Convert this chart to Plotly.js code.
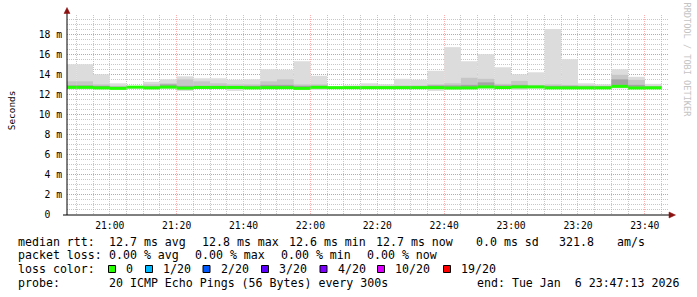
<!DOCTYPE html>
<html>
<head>
<meta charset="utf-8">
<script src="https://cdn.plot.ly/plotly-3.0.1.min.js"></script>
<style>
html,body{margin:0;padding:0;background:#fff;}
#chart{width:697px;height:297px;}
</style>
</head>
<body>
<div id="chart"></div>
<script>
// ---- data (bin end times, 5-minute steps) ----
const binEnd = [
  '2026-01-06 20:50','2026-01-06 20:55','2026-01-06 21:00','2026-01-06 21:05','2026-01-06 21:10','2026-01-06 21:15',
  '2026-01-06 21:20','2026-01-06 21:25','2026-01-06 21:30','2026-01-06 21:35','2026-01-06 21:40','2026-01-06 21:45',
  '2026-01-06 21:50','2026-01-06 21:55','2026-01-06 22:00','2026-01-06 22:05','2026-01-06 22:10','2026-01-06 22:15',
  '2026-01-06 22:20','2026-01-06 22:25','2026-01-06 22:30','2026-01-06 22:35','2026-01-06 22:40','2026-01-06 22:45',
  '2026-01-06 22:50','2026-01-06 22:55','2026-01-06 23:00','2026-01-06 23:05','2026-01-06 23:10','2026-01-06 23:15',
  '2026-01-06 23:20','2026-01-06 23:25','2026-01-06 23:30','2026-01-06 23:35','2026-01-06 23:40','2026-01-06 23:45'
];
// values in ms
const pingMax = [15.0,15.0,14.0,13.1,12.8,13.25, 13.5,13.8,13.6,13.6,13.45,13.5, 14.5,14.45,15.3,13.85,12.8,12.9,
                 13.1,13.0,13.55,13.45,14.35,16.7, 15.3,16.0,14.7,14.0,14.2,18.5, 15.5,13.1,13.0,14.5,13.75,13.05];
const pingHi  = [13.3,13.3,13.0,12.85,12.78,13.0, 13.1,13.5,13.3,13.1,13.0,13.0, 13.3,13.5,13.0,13.0,12.75,12.8,
                 12.85,12.85,12.9,12.9,13.0,13.1, 13.65,13.55,13.05,13.35,12.95,13.0, 12.95,12.9,12.85,13.95,13.45,12.85];
const pingCore= [12.9,12.9,12.85,12.75,12.75,12.8, 13.0,12.85,12.85,12.85,12.8,12.85, 12.95,12.95,12.85,12.85,12.72,12.75,
                 12.78,12.78,12.8,12.8,12.9,12.9, 12.95,13.2,12.9,12.95,12.85,12.85, 12.85,12.8,12.8,13.5,12.95,12.78];
const median  = [12.7,12.7,12.65,12.6,12.72,12.65, 12.72,12.62,12.69,12.69,12.69,12.65, 12.67,12.67,12.6,12.7,12.67,12.67,
                 12.67,12.67,12.67,12.67,12.67,12.64, 12.65,12.74,12.68,12.74,12.74,12.65, 12.65,12.65,12.65,12.8,12.64,12.65];
const pingMin = [12.5,12.5,12.5,12.5,12.6,12.5, 12.6,12.35,12.55,12.55,12.35,12.55, 12.55,12.55,12.45,12.45,12.6,12.6,
                 12.6,12.6,12.6,12.6,12.35,12.5, 12.5,12.6,12.55,12.45,12.6,12.55, 12.55,12.55,12.55,12.6,12.55,12.55];

const yTickVals = [0,2,4,6,8,10,12,14,16,18];
const yTickText = ['0  ','2 m','4 m','6 m','8 m','10 m','12 m','14 m','16 m','18 m'];

const rttItems  = ['median rtt:','12.7 ms avg','12.8 ms max','12.6 ms min','12.7 ms now','0.0 ms sd','321.8','am/s'];
const lossItems = ['packet loss:','0.00 % avg','0.00 % max','0.00 % min','0.00 % now'];
const lossLabels = ['0','1/20','2/20','3/20','4/20','10/20','19/20'];
const lossColors = ['#26ff00','#00b8ff','#0059ff','#5e00ff','#7e00ff','#dd00ff','#ff0000'];
const probeItems = ['probe:','20 ICMP Echo Pings (56 Bytes) every 300s'];
const endText    = 'end: Tue Jan  6 23:47:13 2026';

// ---- geometry helpers ----
const W = 697, H = 297, L = 67, R = 28, T = 15, B = 82;
const PW = W - L - R, PH = H - T - B;
const px = x => (x - L) / PW;
const py = y => (H - B - y) / PH;
const nb = s => s.replace(/ /g, '\u00a0');
const MONO = 'DejaVu Sans Mono';

const STEP = 300000;
function band(lo, hi, color) {
  return {
    type: 'bar', x: binEnd, base: lo, y: hi.map((v, i) => v - lo[i]),
    width: STEP, offset: -STEP, marker: {color: color, line: {width: 0}},
    hoverinfo: 'skip', showlegend: false
  };
}
const medLo = median.map(v => v - 0.15);
const medHi = median.map(v => v + 0.15);

const traces = [
  band(pingMin, pingMax, '#dcdcdc'),
  band(median, pingHi, '#c6c6c6'),
  band(median, pingCore, '#a4a4a4'),
  band(medLo, medHi, '#22ff00')
];

const gridMajor = 'rgba(255,110,110,0.55)';
const gridMinor = 'rgba(175,175,175,0.7)';

const annotations = [];
function addText(text, x, y, size, anchor, color) {
  annotations.push({text: nb(text), xref: 'paper', yref: 'paper', x: px(x), y: py(y),
    xanchor: anchor || 'left', yanchor: 'middle', showarrow: false,
    font: {family: MONO, size: size, color: color || '#000'}});
}
const LF = 11.6;
const rttX  = [16, 107.3, 200, 286.5, 374, 474, 557, 615];
const lossX = [16, 107.3, 193.3, 279.3, 365];
rttItems.forEach((t, i) => addText(t, rttX[i], 241.7, LF));
lossItems.forEach((t, i) => addText(t, lossX[i], 255.3, LF));
addText('loss color:', 16, 269, LF);
addText(probeItems[0], 16, 282.7, LF);
addText(probeItems[1], 107.3, 282.7, LF);
addText(endText, 681, 282.7, LF, 'right');

const sqX = [108.5, 145.5, 203, 261.5, 320, 377.5, 443.5];
const shapes = [];
lossLabels.forEach((lab, i) => {
  shapes.push({type: 'rect', xref: 'paper', yref: 'paper',
    x0: px(sqX[i]), x1: px(sqX[i] + 7), y0: py(272.5), y1: py(265.5),
    fillcolor: lossColors[i], line: {color: '#000', width: 1}});
  addText(lab, sqX[i] + 15.7, 269, LF);
});

// y title and watermark
annotations.push({text: 'Seconds', xref: 'paper', yref: 'paper', x: px(11.2), y: py(110),
  xanchor: 'center', yanchor: 'middle', textangle: -90, showarrow: false,
  font: {family: MONO, size: 9.4, color: '#000'}});
annotations.push({text: nb('RRDTOOL / TOBI OETIKER'), xref: 'paper', yref: 'paper', x: px(686.5), y: py(60),
  xanchor: 'center', yanchor: 'middle', textangle: 90, showarrow: false,
  font: {family: MONO, size: 8.6, color: '#c4c4c4'}});

// axis lines and arrows
shapes.push({type: 'line', xref: 'paper', yref: 'paper', x0: px(67), x1: px(67), y0: py(215), y1: py(10),
  line: {color: '#000', width: 1}});
shapes.push({type: 'line', xref: 'paper', yref: 'paper', x0: px(63), x1: px(672), y0: py(215), y1: py(215),
  line: {color: '#000', width: 1}});
shapes.push({type: 'path', xref: 'paper', yref: 'paper',
  path: `M ${px(64)} ${py(13.5)} L ${px(70)} ${py(13.5)} L ${px(67)} ${py(7.5)} Z`,
  fillcolor: '#8b1010', line: {color: '#8b1010', width: 0.5}});
shapes.push({type: 'path', xref: 'paper', yref: 'paper',
  path: `M ${px(669)} ${py(212)} L ${px(669)} ${py(218)} L ${px(675.5)} ${py(215)} Z`,
  fillcolor: '#8b1010', line: {color: '#8b1010', width: 0.5}});

const layout = {
  width: W, height: H,
  margin: {l: L, r: R, t: T, b: B, pad: 0},
  paper_bgcolor: '#fff', plot_bgcolor: '#fff',
  barmode: 'overlay', showlegend: false,
  font: {family: MONO, size: 10, color: '#000'},
  xaxis: {
    type: 'date',
    range: ['2026-01-06 20:47:13', '2026-01-06 23:47:13'],
    tick0: '2026-01-06 21:00:00', dtick: 1200000, tickformat: '%H:%M',
    showgrid: true, gridcolor: gridMajor, griddash: '1px,1px', gridwidth: 1,
    minor: {tick0: '2026-01-06 21:00:00', dtick: STEP, showgrid: true, gridcolor: gridMinor, griddash: '1px,1px', gridwidth: 1},
    showline: false, zeroline: false, ticks: '',
    ticklabelstandoff: 3,
    tickfont: {family: MONO, size: 9.7, color: '#000'},
    fixedrange: true
  },
  yaxis: {
    range: [0, 19.9],
    tickmode: 'array', tickvals: yTickVals, ticktext: yTickText.map(nb),
    showgrid: true, gridcolor: gridMajor, griddash: '1px,1px', gridwidth: 1,
    minor: {tick0: 0, dtick: 0.5, showgrid: true, gridcolor: gridMinor, griddash: '1px,1px', gridwidth: 1},
    showline: false, zeroline: false, ticks: '',
    ticklabelstandoff: 4,
    tickfont: {family: MONO, size: 9.7, color: '#000'},
    fixedrange: true
  },
  annotations: annotations,
  shapes: shapes
};

Plotly.newPlot('chart', traces, layout, {staticPlot: true, displayModeBar: false});
</script>
</body>
</html>
